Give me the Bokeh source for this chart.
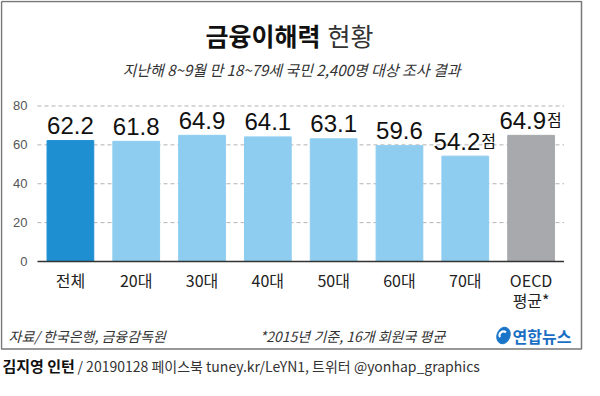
from bokeh.plotting import figure
from bokeh.models import Range1d, ColumnDataSource
from bokeh.embed import file_html
from bokeh.resources import INLINE
from bokeh.core.properties import value

# ---- data ----
categories = ["전체", "20대", "30대", "40대", "50대", "60대", "70대", "OECD\n평균*"]
scores = [62.2, 61.8, 64.9, 64.1, 63.1, 59.6, 54.2, 64.9]
score_labels = ["62.2", "61.8", "64.9", "64.1", "63.1", "59.6", "54.2", "64.9"]
unit_suffix = ["", "", "", "", "", "", "점", "점"]
bar_colors = ["#1e90d2", "#8ecdf0", "#8ecdf0", "#8ecdf0", "#8ecdf0", "#8ecdf0", "#8ecdf0", "#a7a9ac"]
y_ticks = [0, 20, 40, 60, 80]
y_tick_labels = ["0", "20", "40", "60", "80"]

title_bold = "금융이해력"
title_reg = "현황"
subtitle = "지난해 8~9월 만 18~79세 국민 2,400명 대상 조사 결과"
source_note = "자료/ 한국은행, 금융감독원"
foot_note = "*2015년 기준, 16개 회원국 평균"
logo_text = "연합뉴스"
credit_bold = "김지영 인턴"
credit_rest = "/ 20190128 페이스북 tuney.kr/LeYN1, 트위터 @yonhap_graphics"

# ---- layout (pixel geometry of the canvas) ----
W, H = 584, 380
X0 = 37.0                  # left edge of plotting area (px)
PXX = (563.5 - 37.0) / 8   # px per category
Y0 = 261.0                 # y pixel of value 0
PXY = 1.944                # px per unit of score
KR = "Noto Sans CJK KR"
NUM = "Liberation Sans"


def dx(px):
    return (px - X0) / PXX - 0.5


def dy(py):
    return (Y0 - py) / PXY


p = figure(width=W, height=H, x_range=Range1d(dx(0), dx(W)), y_range=Range1d(dy(H), dy(0)),
           x_axis_type=None, y_axis_type=None, output_backend="svg", toolbar_location=None,
           min_border=0)
p.title.visible = False
p.outline_line_color = None
p.background_fill_color = "white"
p.border_fill_color = "white"

n = len(categories)
xs = list(range(n))
x_lo, x_hi = -0.5, n - 0.5

# gridlines (dashed) and base axis line
grid_vals = [t for t in y_ticks if t != 0]
p.segment(x0=[x_lo] * len(grid_vals), x1=[x_hi] * len(grid_vals), y0=grid_vals, y1=grid_vals,
          line_color="#b3b3b3", line_width=1, line_dash="4 3")

# bars
src = ColumnDataSource(dict(x=xs, score=scores, color=bar_colors))
p.vbar(x="x", top="score", width=0.71, color="color", source=src)

p.segment(x0=[x_lo], x1=[x_hi], y0=[0], y1=[0], line_color="#333333", line_width=1.6)

# y tick labels
p.text(x=[dx(27)] * len(y_ticks), y=y_ticks, text=y_tick_labels, text_align="right",
       text_baseline="middle", text_font=value(NUM), text_font_size="13px", text_color="#555555")

# category labels (possibly two lines)
parts = [c.split("\n") for c in categories]
line1 = [pt[0] for pt in parts]
line2 = [pt[1] if len(pt) > 1 else "" for pt in parts]
p.text(x=xs, y=[dy(279)] * n, text=line1, text_align="center", text_baseline="middle",
       text_font=value(KR), text_font_size="16px", text_color="#222222")
p.text(x=xs, y=[dy(299)] * n, text=line2, text_align="center", text_baseline="middle",
       text_font=value(KR), text_font_size="16px", text_color="#222222")

# value labels
plain = [i for i, s in enumerate(unit_suffix) if s == ""]
suf = [i for i, s in enumerate(unit_suffix) if s != ""]
p.text(x=[xs[i] for i in plain], y=[scores[i] for i in plain], text=[score_labels[i] for i in plain],
       text_align="center", text_baseline="alphabetic", y_offset=-15,
       text_font=value(NUM), text_font_size="24px", text_color="#111111")
p.text(x=[xs[i] for i in suf], y=[scores[i] for i in suf], text=[score_labels[i] for i in suf],
       text_align="right", text_baseline="alphabetic", x_offset=15, y_offset=-15,
       text_font=value(NUM), text_font_size="24px", text_color="#111111")
p.text(x=[xs[i] for i in suf], y=[scores[i] for i in suf], text=[unit_suffix[i] for i in suf],
       text_align="left", text_baseline="alphabetic", x_offset=16, y_offset=-16,
       text_font=value(KR), text_font_size="16px", text_color="#111111")


def txt(s, px, py, size, style="normal", color="#222222", align="left", font=KR):
    p.text(x=[dx(px)], y=[dy(py)], text=[s], text_align=align, text_baseline="middle",
           text_font=value(font), text_font_size=size, text_font_style=style, text_color=color)


# header
txt(title_bold, 320, 34, "25px", style="bold", color="#111111", align="right")
txt(title_reg, 327, 34, "25px", color="#333333")
txt(subtitle, 291, 69, "15px", style="italic", color="#333333", align="center")

# footer inside the box
txt(source_note, 8, 335, "14px", style="italic", color="#333333")
txt(foot_note, 352, 335, "14px", style="italic", color="#333333", align="center")
txt(logo_text, 512, 335, "16px", style="bold", color="#1a6fc4")
p.ellipse(x=[dx(503)], y=[dy(335)], width=13, height=17, width_units="screen", height_units="screen",
          angle=-0.35, color="#1a75c9")
p.arc(x=[dx(503)], y=[dy(335)], radius=4, radius_units="screen", start_angle=3.6, end_angle=0.9,
      direction="clock", line_color="white", line_width=2)

# credit line below the box
txt(credit_bold, 2, 365, "15px", style="bold", color="#111111")
txt(credit_rest, 77, 365, "14px", color="#333333")

# outer box
bx = [dx(1), dx(581), dx(581), dx(1), dx(1)]
by = [dy(1), dy(1), dy(348.5), dy(348.5), dy(1)]
p.line(x=bx, y=by, line_color="#777777", line_width=1.5)

open("out.html", "w").write(file_html(p, INLINE))
